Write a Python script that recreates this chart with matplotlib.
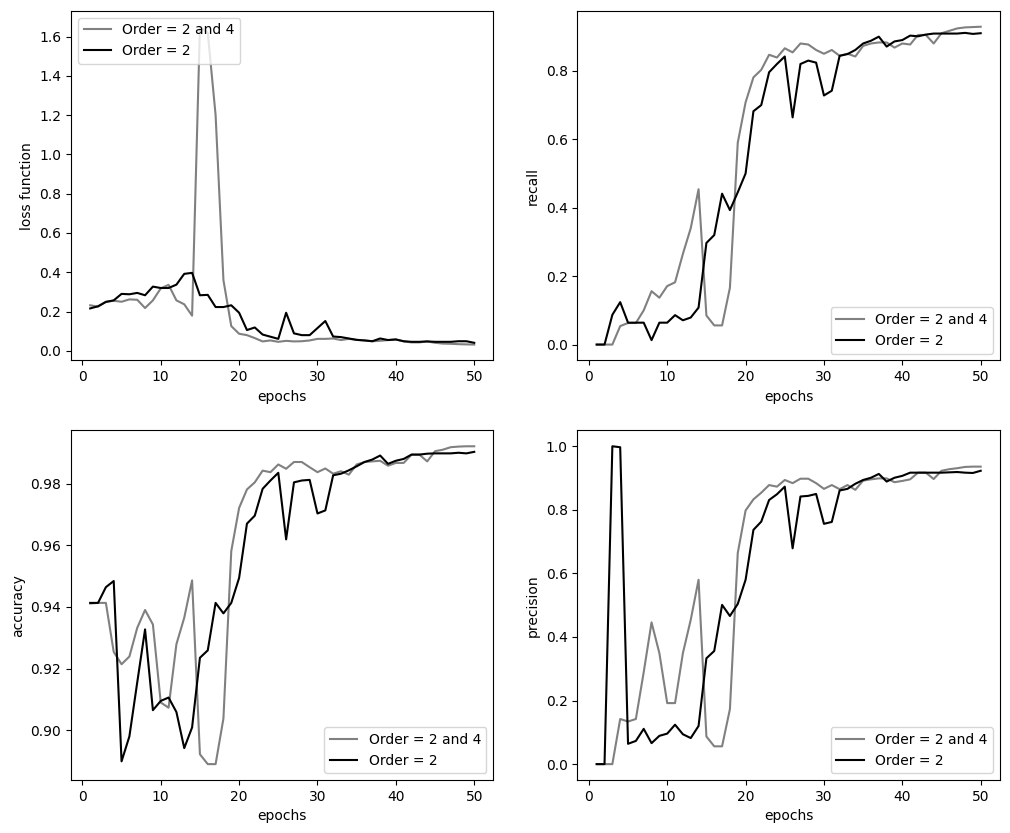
import matplotlib
matplotlib.use("Agg")
import matplotlib.pyplot as plt
import numpy as np

# values, one per epoch (1..50)
epochs = np.arange(1, 51)

loss_24 = [0.232, 0.225, 0.25, 0.255, 0.25, 0.262, 0.26, 0.218, 0.257, 0.318,
           0.336, 0.257, 0.237, 0.179, 1.65, 1.62, 1.2, 0.36, 0.126, 0.087,
           0.08, 0.065, 0.048, 0.053, 0.046, 0.051, 0.048, 0.049, 0.053, 0.061,
           0.061, 0.063, 0.055, 0.061, 0.056, 0.053, 0.049, 0.051, 0.055, 0.058,
           0.048, 0.043, 0.043, 0.048, 0.041, 0.037, 0.036, 0.034, 0.033, 0.032]
loss_2 = [0.216, 0.227, 0.249, 0.257, 0.29, 0.288, 0.295, 0.283, 0.327, 0.32,
          0.32, 0.337, 0.392, 0.397, 0.283, 0.285, 0.223, 0.223, 0.232, 0.194,
          0.106, 0.119, 0.083, 0.072, 0.061, 0.194, 0.089, 0.08, 0.08, 0.116,
          0.152, 0.073, 0.07, 0.063, 0.056, 0.053, 0.049, 0.063, 0.055, 0.058,
          0.049, 0.046, 0.046, 0.048, 0.046, 0.046, 0.046, 0.049, 0.049, 0.041]

recall_24 = [0.0, 0.0, 0.0, 0.054, 0.063, 0.063, 0.10, 0.156, 0.137, 0.171,
             0.182, 0.265, 0.34, 0.454, 0.085, 0.056, 0.056, 0.166, 0.59, 0.708,
             0.781, 0.803, 0.847, 0.839, 0.866, 0.854, 0.88, 0.877, 0.861, 0.85,
             0.861, 0.844, 0.85, 0.842, 0.873, 0.88, 0.883, 0.883, 0.868, 0.88,
             0.877, 0.905, 0.905, 0.88, 0.91, 0.917, 0.924, 0.927, 0.928, 0.929]
recall_2 = [0.0, 0.0, 0.087, 0.124, 0.064, 0.064, 0.064, 0.013, 0.064, 0.064,
            0.086, 0.071, 0.079, 0.108, 0.297, 0.32, 0.441, 0.393, 0.445, 0.5,
            0.682, 0.70, 0.796, 0.82, 0.842, 0.664, 0.82, 0.83, 0.824, 0.728,
            0.742, 0.844, 0.849, 0.861, 0.88, 0.888, 0.9, 0.871, 0.886, 0.89,
            0.903, 0.901, 0.906, 0.909, 0.909, 0.909, 0.909, 0.911, 0.908, 0.91]

acc_24 = [0.9411, 0.9413, 0.9413, 0.9254, 0.9214, 0.9239, 0.9332, 0.939, 0.9343, 0.909,
          0.9073, 0.9279, 0.9365, 0.9486, 0.8922, 0.889, 0.889, 0.9038, 0.9581, 0.9721,
          0.9781, 0.9804, 0.9842, 0.9837, 0.9862, 0.9848, 0.987, 0.987, 0.9853, 0.9837,
          0.9849, 0.9832, 0.984, 0.9829, 0.9862, 0.987, 0.9872, 0.9874, 0.9858, 0.9867,
          0.9867, 0.9894, 0.9894, 0.9872, 0.9905, 0.991, 0.9918, 0.992, 0.9921, 0.9921]
acc_2 = [0.9413, 0.9413, 0.9464, 0.9484, 0.8899, 0.898, 0.9155, 0.9327, 0.9065, 0.9095,
         0.9106, 0.9059, 0.8942, 0.9009, 0.9235, 0.9259, 0.9413, 0.9379, 0.9413, 0.9494,
         0.967, 0.9696, 0.9783, 0.981, 0.9835, 0.9619, 0.9804, 0.981, 0.9812, 0.9703,
         0.9713, 0.9827, 0.9832, 0.9843, 0.9856, 0.987, 0.9878, 0.9891, 0.9864, 0.9874,
         0.988, 0.9894, 0.9894, 0.9897, 0.9898, 0.9898, 0.9898, 0.99, 0.9898, 0.9903]

prec_24 = [0.0, 0.0, 0.0, 0.142, 0.134, 0.142, 0.289, 0.446, 0.349, 0.192,
           0.192, 0.349, 0.454, 0.58, 0.087, 0.056, 0.056, 0.173, 0.664, 0.798,
           0.833, 0.854, 0.878, 0.873, 0.894, 0.884, 0.898, 0.898, 0.884, 0.866,
           0.878, 0.865, 0.878, 0.863, 0.892, 0.896, 0.899, 0.899, 0.887, 0.891,
           0.896, 0.917, 0.917, 0.897, 0.923, 0.928, 0.931, 0.935, 0.936, 0.936]
prec_2 = [0.0, 0.0, 1.0, 0.997, 0.064, 0.073, 0.111, 0.066, 0.089, 0.096,
          0.124, 0.094, 0.082, 0.12, 0.333, 0.356, 0.501, 0.466, 0.504, 0.58,
          0.737, 0.763, 0.831, 0.849, 0.873, 0.679, 0.842, 0.844, 0.85, 0.756,
          0.762, 0.861, 0.866, 0.882, 0.894, 0.901, 0.913, 0.889, 0.901, 0.907,
          0.917, 0.917, 0.917, 0.917, 0.917, 0.918, 0.919, 0.917, 0.916, 0.923]

panels = [("loss function", loss_24, loss_2, "upper left"),
          ("recall", recall_24, recall_2, "lower right"),
          ("accuracy", acc_24, acc_2, "lower right"),
          ("precision", prec_24, prec_2, "lower right")]

fig, axs = plt.subplots(2, 2, figsize=(10.1, 8.33), dpi=100)
plt.subplots_adjust(left=0.0703, right=0.990, top=0.987, bottom=0.0636,
                    wspace=0.199, hspace=0.2)

for ax, (ylab, y24, y2, loc) in zip(axs.flatten(), panels):
    ax.plot(epochs, y24, color="grey", label="Order = 2 and 4")
    ax.plot(epochs, y2, color="black", label="Order = 2")
    ax.set_xlabel("epochs")
    ax.set_ylabel(ylab)
    ax.legend(loc=loc)

plt.savefig("out.png")
